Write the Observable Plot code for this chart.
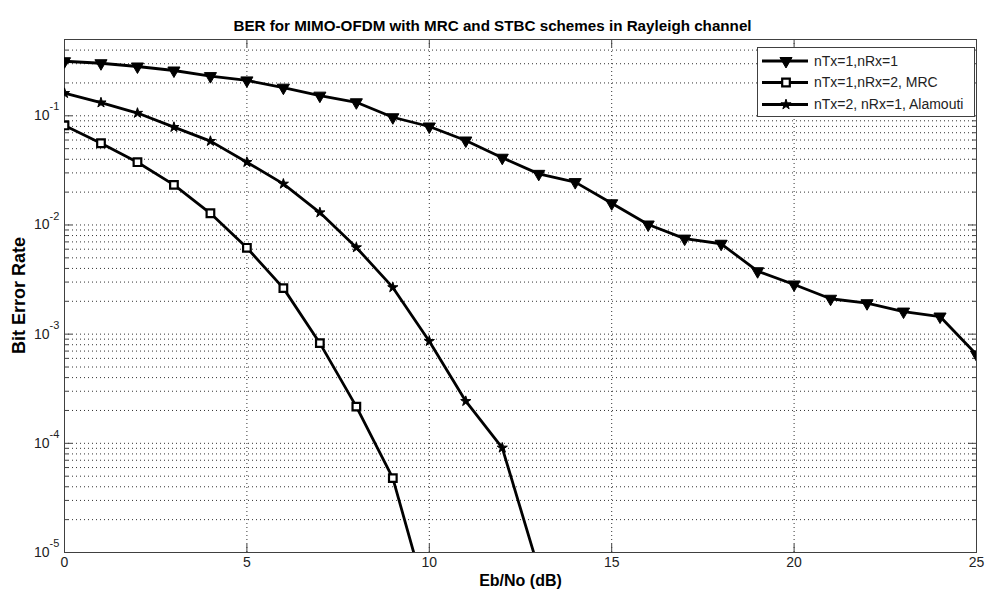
<!DOCTYPE html>
<html><head><meta charset="utf-8">
<script src="https://cdn.jsdelivr.net/npm/d3@7"></script>
<script src="https://cdn.jsdelivr.net/npm/@observablehq/plot@0.6"></script>
<style>
body{margin:0;background:#fff;}
#wrap{position:relative;width:986px;height:599px;font-family:"Liberation Sans",Arial,sans-serif;}
#legend{position:absolute;left:757px;top:47px;}
</style></head><body><div id="wrap"></div>
<script>
// ---- data ----
const snr1x1 = [0,1,2,3,4,5,6,7,8,9,10,11,12,13,14,15,16,17,18,19,20,21,22,23,24,25];
const ber1x1 = [0.316,0.303,0.283,0.260,0.231,0.211,0.181,0.153,0.133,0.097,0.0798,0.0594,0.0413,0.0294,0.0247,0.0158,0.0101,0.0075,0.00673,0.00377,0.00285,0.00211,0.00192,0.00161,0.00145,0.000651];
const snrMRC = [0,1,2,3,4,5,6,7,8,9,10];
const berMRC = [0.0816,0.0561,0.0376,0.0233,0.0128,0.00618,0.00264,0.000827,0.000217,0.000048,0.0000031];
const snrSTBC = [0,1,2,3,4,5,6,7,8,9,10,11,12,13];
const berSTBC = [0.161,0.132,0.106,0.0787,0.0586,0.0376,0.0238,0.0130,0.00622,0.00268,0.000862,0.000243,0.000091,0.000007];
const seriesNames = ["nTx=1,nRx=1","nTx=1,nRx=2, MRC","nTx=2, nRx=1, Alamouti"];
const xTicks = [0,5,10,15,20,25];
const yMajor = [1e-5,1e-4,1e-3,1e-2,1e-1];
const yExp = ["-5","-4","-3","-2","-1"];
const minorMult = [2,3,4,5,6,7,8,9];
const titleText = "BER for MIMO-OFDM with MRC and STBC schemes in Rayleigh channel";
const xLabel = "Eb/No (dB)";
const yLabel = "Bit Error Rate";

// ---- tables ----
const d1 = snr1x1.map((x,i)=>({x, y: ber1x1[i]}));
const d2 = snrMRC.map((x,i)=>({x, y: berMRC[i]}));
const d3s = snrSTBC.map((x,i)=>({x, y: berSTBC[i]}));
const yMinor = yMajor.flatMap(k => minorMult.map(m => m*k)).filter(v => v < 0.5);

const W = 986, H = 599, ML = 64, MR = 10, MT = 39, MB = 47;
const PW = W - ML - MR, PH = H - MT - MB;
const axisCol = "#404040", gridCol = "#333";
const FONT = "'Liberation Sans', Arial, sans-serif";

const chart = Plot.plot({
  width: W, height: H,
  marginLeft: ML, marginRight: MR, marginTop: MT, marginBottom: MB,
  style: {fontFamily: FONT, fontSize: "14px", background: "white", color: "black"},
  x: {domain: [0, 25], axis: null},
  y: {type: "log", domain: [1e-5, 0.5], axis: null},
  marks: [
    // grid
    Plot.ruleY([...yMajor.slice(1), ...yMinor], {y: d=>d, stroke: gridCol, strokeDasharray: "1,3", strokeWidth: 1}),
    Plot.ruleX(xTicks.slice(1, -1), {x: d=>d, stroke: gridCol, strokeDasharray: "1,3", strokeWidth: 1}),
    // inside ticks
    Plot.tickY(yMajor, {y: d=>d, insetRight: PW - 8, stroke: axisCol}),
    Plot.tickY(yMajor, {y: d=>d, insetLeft: PW - 8, stroke: axisCol}),
    Plot.tickY(yMinor, {y: d=>d, insetRight: PW - 4, stroke: axisCol}),
    Plot.tickY(yMinor, {y: d=>d, insetLeft: PW - 4, stroke: axisCol}),
    Plot.tickX(xTicks, {x: d=>d, insetTop: PH - 8, stroke: axisCol}),
    Plot.tickX(xTicks, {x: d=>d, insetBottom: PH - 8, stroke: axisCol}),
    Plot.frame({stroke: axisCol}),
    // series
    Plot.line(d1, {x: "x", y: "y", stroke: "black", strokeWidth: 2.8, clip: true}),
    Plot.line(d2, {x: "x", y: "y", stroke: "black", strokeWidth: 2.8, clip: true}),
    Plot.line(d3s, {x: "x", y: "y", stroke: "black", strokeWidth: 2.8, clip: true}),
    Plot.dot(d1, {x: "x", y: "y", symbol: "triangle", rotate: 180, r: 4.5, fill: "black", stroke: "black", strokeWidth: 1, clip: true}),
    Plot.dot(d2, {x: "x", y: "y", symbol: "square", r: 4.3, fill: "white", stroke: "black", strokeWidth: 2.2, clip: true}),
    Plot.dot(d3s, {x: "x", y: "y", symbol: "star", r: 3.2, fill: "black", stroke: "black", strokeWidth: 1, clip: true}),
    // tick labels
    Plot.text(xTicks, {x: d=>d, frameAnchor: "bottom", dy: 14, text: d=>String(d), fontSize: 14, fill: "#222"}),
    Plot.text(yMajor, {y: d=>d, frameAnchor: "left", dx: -15, textAnchor: "end", text: ()=>"10", fontSize: 14, fill: "#222"}),
    Plot.text(yMajor, {y: d=>d, frameAnchor: "left", dx: -15, dy: -9, textAnchor: "start", text: (d,i)=>yExp[i], fontSize: 11, fill: "#222"}),
    // labels
    Plot.text([xLabel], {frameAnchor: "bottom", dy: 33, text: d=>d, fontWeight: "bold", fontSize: 16}),
    Plot.text([titleText], {frameAnchor: "top", dx: -28, dy: -19, text: d=>d, fontWeight: "bold", fontSize: 15.2})
  ]
});
const wrap = document.getElementById("wrap");
wrap.appendChild(chart);

// y label, rotated around the vertical centre of the plot frame
d3.select(chart).append("text")
  .attr("transform", `translate(19,${MT + PH/2}) rotate(-90)`)
  .attr("text-anchor", "middle").attr("dy", "0.35em")
  .attr("font-family", FONT).attr("font-weight", "bold").attr("font-size", 18)
  .attr("fill", "black").text(yLabel);

// ---- legend overlay ----
const LW = 218, LH = 70;
const lg = d3.select(wrap).append("svg").attr("id","legend").attr("width", LW).attr("height", LH);
lg.append("rect").attr("x",0.5).attr("y",0.5).attr("width",LW-1).attr("height",LH-1).attr("fill","white").attr("stroke",axisCol);
const rowY = [14, 35.5, 57.5];
const syms = [
  {type: d3.symbolTriangle, r: 4.5, fill: "black", sw: 1, rot: 180},
  {type: d3.symbolSquare, r: 4.3, fill: "white", sw: 2.2, rot: 0},
  {type: d3.symbolStar, r: 3.2, fill: "black", sw: 1, rot: 0}
];
seriesNames.forEach((name, i) => {
  const g = lg.append("g").attr("transform", `translate(0,${rowY[i]})`);
  g.append("line").attr("x1",5).attr("x2",51).attr("y1",0).attr("y2",0).attr("stroke","black").attr("stroke-width",2.8);
  const s = syms[i];
  g.append("path").attr("d", d3.symbol(s.type, Math.PI*s.r*s.r)())
    .attr("transform", `translate(29,0) rotate(${s.rot})`)
    .attr("fill", s.fill).attr("stroke","black").attr("stroke-width", s.sw);
  g.append("text").attr("x",57).attr("y",0).attr("dy","0.35em").attr("font-size",14).attr("fill","#222")
    .attr("font-family", FONT).text(name);
});
</script></body></html>
